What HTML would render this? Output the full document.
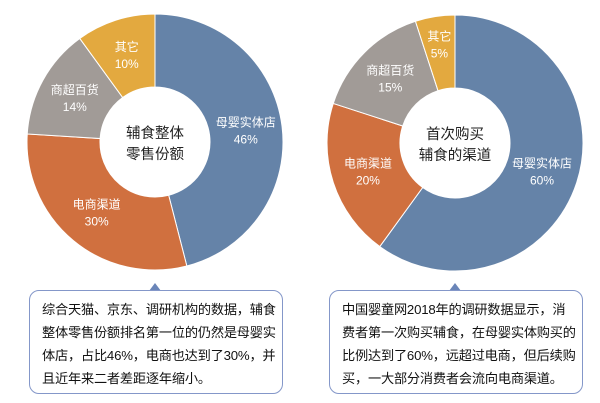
<!DOCTYPE html>
<html><head><meta charset="utf-8"><style>
body{margin:0;width:600px;height:403px;background:#fff;overflow:hidden;font-family:"Liberation Sans","Noto Sans CJK SC",sans-serif;}
.box{position:absolute;top:290px;width:254px;height:104px;border:1.5px solid #8497c9;border-radius:10px;background:#fff;box-sizing:border-box;padding:7px 0 0 12px;font-size:13.2px;line-height:23px;color:#111;letter-spacing:-0.2px}
</style></head><body>
<svg id="chart" width="600" height="403" style="position:absolute;left:0;top:0"></svg>
<div class="box" style="left:29px">综合天猫、京东、调研机构的数据，辅食<br>整体零售份额排名第一位的仍然是母婴实<br>体店，占比46%，电商也达到了30%，并<br>且近年来二者差距逐年缩小。</div>
<div class="box" style="left:329px">中国婴童网2018年的调研数据显示，消<br>费者第一次购买辅食，在母婴实体购买的<br>比例达到了60%，远超过电商，但后续购<br>买，一大部分消费者会流向电商渠道。</div>
<script>
const categories=["母婴实体店","电商渠道","商超百货","其它"];
const leftValues=[46,30,14,10];
const rightValues=[60,20,15,5];
const colors=["#6583a8","#d0703f","#a19b97","#e3a93f"];
const svg=document.getElementById('chart');
const NS='http://www.w3.org/2000/svg';
function donut(cx,cy,R,r,vals,title,name){
  const tot=vals.reduce((a,b)=>a+b,0);let a0=0;
  vals.forEach((v,i)=>{
    const a1=a0+v/tot*2*Math.PI;
    const p=(a,rad)=>[cx+rad*Math.sin(a),cy-rad*Math.cos(a)];
    const [x0,y0]=p(a0,R),[x1,y1]=p(a1,R),[x2,y2]=p(a1,r),[x3,y3]=p(a0,r);
    const lg=(a1-a0)>Math.PI?1:0;
    const path=document.createElementNS(NS,'path');
    path.setAttribute('d',`M${x0},${y0}A${R},${R} 0 ${lg} 1 ${x1},${y1}L${x2},${y2}A${r},${r} 0 ${lg} 0 ${x3},${y3}Z`);
    path.setAttribute('fill',colors[i]);path.setAttribute('stroke','#fff');path.setAttribute('stroke-width','1');
    
    
    svg.appendChild(path);
    const am=(a0+a1)/2,lr=(R+r)/2+ (i==3&&v<8?8:0);
    const [lx,ly]=p(am,lr);
    [categories[i],v+'%'].forEach((s,k)=>{
      const t=document.createElementNS(NS,'text');
      t.setAttribute('x',lx);t.setAttribute('y',ly-4+k*17);
      t.setAttribute('text-anchor','middle');t.setAttribute('font-size','12');t.setAttribute('fill','#fff');
      
      
      t.textContent=s;svg.appendChild(t);
    });
    a0=a1;
  });
  title.forEach((s,k)=>{
    const t=document.createElementNS(NS,'text');
    t.setAttribute('x',cx);t.setAttribute('y',cy-4+k*21);
    t.setAttribute('text-anchor','middle');t.setAttribute('font-size','14.5');t.setAttribute('fill','#222');
    
    
    t.textContent=s;svg.appendChild(t);
  });
  const tri=document.createElementNS(NS,'polygon');
  tri.setAttribute('points',`${cx-6},291 ${cx+6},291 ${cx},283`);
  tri.setAttribute('fill','#6a85b8');
  
  
  svg.appendChild(tri);
}
donut(155,142,128,55,leftValues,["辅食整体","零售份额"],'left');
donut(455,143,128,55,rightValues,["首次购买","辅食的渠道"],'right');
</script>
</body></html>
